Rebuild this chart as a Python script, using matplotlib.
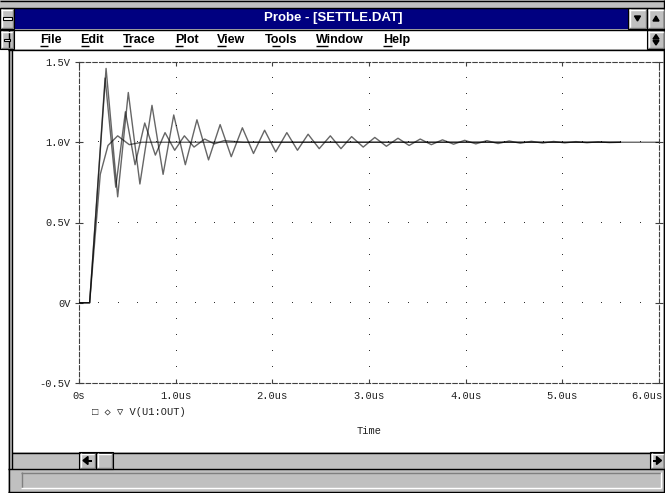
import matplotlib.pyplot as plt
import numpy as np
from matplotlib.patches import Rectangle, Polygon
from matplotlib.transforms import ScaledTranslation

# V(U1:OUT) settling runs, time in us, volts at the turning points of each trace
t_flat = [0.0, 0.11, 0.22, 0.30, 0.40, 0.52, 0.65, 6.0]
v_flat = [0.0, 0.0, 0.80, 0.98, 1.04, 0.985, 1.0, 1.0]

t_mid = [0.0, 0.11, 0.27, 0.38, 0.48, 0.58, 0.68, 0.79, 0.89, 0.99, 1.09,
         1.19, 1.30, 1.40, 1.50, 1.70, 5.6]
v_mid = [0.0, 0.0, 1.40, 0.72, 1.19, 0.86, 1.12, 0.92, 1.06, 0.95, 1.04,
         0.97, 1.02, 0.99, 1.01, 1.0, 1.0]

t_ring = [0.0, 0.11, 0.28, 0.40, 0.51, 0.63, 0.755, 0.87, 0.98, 1.10, 1.22,
          1.34, 1.46, 1.575, 1.69, 1.805, 1.92, 2.035, 2.15, 2.26, 2.37,
          2.485, 2.60, 2.71, 2.82, 2.94, 3.06, 3.18, 3.30, 3.415, 3.53,
          3.645, 3.76, 3.875, 3.99, 4.105, 4.22, 4.335, 4.45, 4.565, 4.68,
          4.795, 4.91, 5.025, 5.14, 5.255, 5.37, 5.485, 5.60]
v_ring = [0.0, 0.0, 1.46, 0.66, 1.31, 0.74, 1.23, 0.80, 1.17, 0.86, 1.14,
          0.89, 1.11, 0.91, 1.09, 0.93, 1.075, 0.94, 1.06, 0.95, 1.05,
          0.96, 1.04, 0.96, 1.035, 0.97, 1.03, 0.975, 1.025, 0.98, 1.02,
          0.985, 1.015, 0.988, 1.012, 0.99, 1.01, 0.992, 1.008, 0.994, 1.006,
          0.995, 1.005, 0.996, 1.004, 0.997, 1.003, 0.998, 1.0]

x_ticks = [0, 1, 2, 3, 4, 5, 6]
x_labels = ['0s', '1.0us', '2.0us', '3.0us', '4.0us', '5.0us', '6.0us']
y_ticks = [-0.5, 0.0, 0.5, 1.0, 1.5]
y_labels = ['-0.5V', '0V', '0.5V', '1.0V', '1.5V']

menu_items = ['File', 'Edit', 'Trace', 'Plot', 'View', 'Tools', 'Window', 'Help']
menu_keys = [0, 0, 0, 0, 0, 1, 0, 0]

W, H = 665, 493
GRAY = '#c0c0c0'
DARK = '#808080'
MONO = ['Liberation Mono', 'DejaVu Sans Mono', 'DejaVu Sans']

fig = plt.figure(figsize=(W / 100, H / 100), dpi=100)
fig.patch.set_facecolor('white')

# window chrome in pixel units
ui = fig.add_axes([0, 0, 1, 1])
ui.set_xlim(0, W)
ui.set_ylim(H, 0)
ui.axis('off')


def box(x0, y0, x1, y1, fc, ec='none', lw=1.0, z=1):
    ui.add_patch(Rectangle((x0, y0), x1 - x0, y1 - y0, facecolor=fc,
                           edgecolor=ec, linewidth=lw, zorder=z))


def hline(y, x0, x1, c='black', lw=1.0, z=3):
    ui.plot([x0, x1], [y, y], color=c, linewidth=lw, solid_capstyle='butt', zorder=z)


def vline(x, y0, y1, c='black', lw=1.0, z=3):
    ui.plot([x, x], [y0, y1], color=c, linewidth=lw, solid_capstyle='butt', zorder=z)


def button(x0, y0, x1, y1):
    box(x0, y0, x1, y1, GRAY, z=2)
    hline(y0 + 1.5, x0 + 1, x1 - 1, 'white', 1.0)
    vline(x0 + 1.5, y0 + 1, y1 - 1, 'white', 1.0)
    hline(y1 - 1.5, x0 + 1, x1 - 1, DARK, 1.0)
    vline(x1 - 1.5, y0 + 1, y1 - 1, DARK, 1.0)
    ui.add_patch(Rectangle((x0, y0), x1 - x0, y1 - y0, facecolor='none',
                           edgecolor='black', linewidth=0.8, zorder=4))


# outer frame and borders
box(0, 0, W, H, GRAY, z=0)
box(0, 50, 8, H, 'white', z=0.4)
box(12, 50, W - 2, 452, 'white', z=0.5)
vline(8.5, 30, H - 1)
vline(11.5, 50, 469)
vline(W - 1.5, 0, H)
hline(H - 1.5, 8, W)
hline(0.5, 0, W)

# title bar
box(14, 8, 628, 29, '#000080', z=1)
hline(7.5, 0, W)
hline(29.5, 0, W)
ui.text(333, 18.5, 'Probe - [SETTLE.DAT]', color='white', fontsize=9.5,
        fontweight='bold', family=['Liberation Sans Narrow', 'Liberation Sans'],
        ha='center', va='center', zorder=5)
button(0, 8, 14, 29)
box(2.5, 16.5, 11.5, 19.5, 'white', 'black', 0.8, z=5)
button(628, 8, 647, 29)
button(647, 8, W, 29)
ui.add_patch(Polygon([[634.5, 16], [640.5, 16], [637.5, 21]], closed=True,
                     color='black', zorder=6))
ui.add_patch(Polygon([[653, 21], [659, 21], [656, 16]], closed=True,
                     color='black', zorder=6))

# menu bar
box(14, 30, 647, 49, 'white', z=1)
hline(49.5, 8, W)
button(0, 30, 14, 49)
box(4, 38.5, 10, 40.5, 'white', 'black', 0.8, z=5)
button(647, 30, W, 49)
ui.add_patch(Polygon([[653, 39], [659, 39], [656, 34.5]], closed=True,
                     color='black', zorder=6))
ui.add_patch(Polygon([[653, 40.5], [659, 40.5], [656, 45]], closed=True,
                     color='black', zorder=6))

fig.canvas.draw()
rend = fig.canvas.get_renderer()
mx = 40
for item, k in zip(menu_items, menu_keys):
    txt = ui.text(mx, 40, item, fontsize=9, fontweight='bold',
                  family='Liberation Sans', va='center', ha='left', zorder=5)
    w_all = txt.get_window_extent(rend).width
    pre = ui.text(mx, 40, item[:k], fontsize=9, fontweight='bold',
                  family='Liberation Sans', va='center', ha='left')
    w_pre = pre.get_window_extent(rend).width if k else 0.0
    pre.remove()
    key = ui.text(mx, 40, item[k], fontsize=9, fontweight='bold',
                  family='Liberation Sans', va='center', ha='left')
    w_key = key.get_window_extent(rend).width
    key.remove()
    hline(46, mx + w_pre, mx + w_pre + w_key, lw=1.0, z=5)
    mx += w_all + 19

# scroll bar and status line
box(12, 452, W - 2, 469, GRAY, z=1)
hline(452.5, 12, W)
hline(468.5, 8, W)
button(79, 452, 96, 469)
ui.add_patch(Polygon([[83, 460.5], [88, 456.5], [88, 464.5]], closed=True,
                     color='black', zorder=6))
box(86, 459.5, 92, 461.5, 'black', z=6)
button(96, 452, 113, 469)
button(W - 15, 452, W, 469)
ui.add_patch(Polygon([[W - 3.5, 460.5], [W - 8.5, 456.5], [W - 8.5, 464.5]],
                     closed=True, color='black', zorder=6))
box(W - 12, 459.5, W - 7, 461.5, 'black', z=6)
box(21, 472, 661, 488, GRAY, z=1)
hline(472.5, 21, 661, DARK)
vline(21.5, 472, 488, DARK)
hline(487.5, 21, 661, 'white')
vline(660.5, 472, 488, 'white')

# plot area
ax = fig.add_axes([79 / W, (H - 383) / H, 580 / W, 321 / H])
ax.patch.set_alpha(0)
ax.set_xlim(0, 6)
ax.set_ylim(-0.5, 1.5)
for sp in ax.spines.values():
    sp.set_linestyle((0, (4, 2)))
    sp.set_color('#404040')
    sp.set_linewidth(0.8)

ax.set_xticks(x_ticks)
ax.set_xticklabels(x_labels)
ax.set_yticks(y_ticks)
ax.set_yticklabels(y_labels)
ax.tick_params(axis='x', direction='in', length=3, width=0.8, color='#404040',
               top=True, pad=6, labelsize=7.5, labelcolor='#202020')
ax.tick_params(axis='y', direction='inout', length=6, width=0.8, color='#404040',
               right=True, pad=3, labelsize=7.5, labelcolor='#202020')
for lab in ax.get_xticklabels() + ax.get_yticklabels():
    lab.set_family(MONO)
# last time label is pulled in so it stays inside the window
last = ax.get_xticklabels()[-1]
last.set_horizontalalignment('right')
last.set_transform(last.get_transform() + ScaledTranslation(4 / 100, 0, fig.dpi_scale_trans))

# dotted grid: 0.2us steps along the voltage lines, 0.1V steps along the time lines
for yv in [0.0, 0.5, 1.0]:
    gx = np.arange(0.2, 6.0, 0.2)
    ax.plot(gx, np.full_like(gx, yv), ',', color='#303030', zorder=1)
for xv in [1, 2, 3, 4, 5]:
    gy = np.arange(-0.4, 1.45, 0.1)
    ax.plot(np.full_like(gy, xv), gy, ',', color='#303030', zorder=1)

# the three runs share one colour; overlaps come out darker
trace = dict(color='black', alpha=0.6, linewidth=1.0, zorder=3)
ax.plot(t_flat, v_flat, **trace)
ax.plot(t_mid, v_mid, **trace)
ax.plot(t_ring, v_ring, **trace)

ax.set_xlabel('Time', family=MONO, fontsize=7.5, color='#202020', labelpad=17.5)

ui.text(92, 412, '\u25a1 \u25c7 \u25bd V(U1:OUT)', family=MONO, fontsize=7.5,
        color='#202020', va='center', ha='left', zorder=5)

fig.savefig('out.png', dpi=100)
